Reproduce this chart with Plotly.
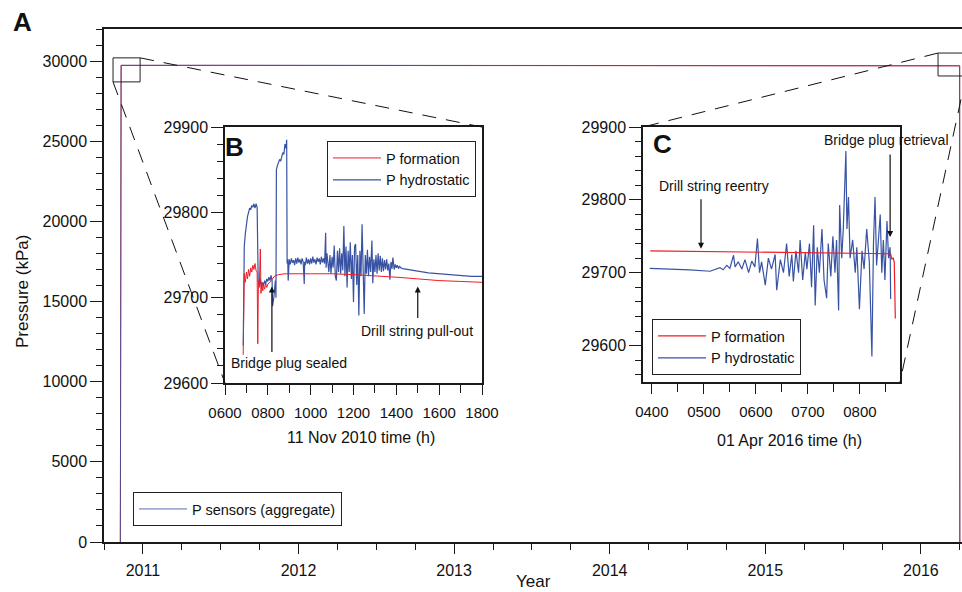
import plotly.graph_objects as go

# ---------------- data ----------------
# Panel A: aggregate record (decimal year, kPa)
agg_year = [2010.855, 2010.857, 2010.860, 2011.5, 2012.5, 2013.5, 2014.5, 2015.5, 2016.245, 2016.249, 2016.250]
agg_formation = [0, 24000, 29728, 29730, 29729, 29731, 29730, 29729, 29727, 29700, 0]
agg_hydrostatic = [0, 24100, 29735, 29736, 29735, 29737, 29736, 29735, 29733, 29710, 0]

# Panel B: 11 Nov 2010 (hour of day, kPa)
b_hyd_t = [6.85, 6.87, 6.90, 6.95, 7.00, 7.05, 7.10, 7.15, 7.20, 7.25, 7.30, 7.35, 7.40, 7.45, 7.50,
           7.55, 7.60, 7.65, 7.70, 7.75, 7.80, 7.85, 7.90, 7.95, 8.00, 8.05, 8.10, 8.15, 8.20, 8.22,
           8.28, 8.32, 8.35, 8.38, 8.40, 8.45, 8.50, 8.55, 8.60, 8.65, 8.70, 8.75, 8.80, 8.85, 8.88,
           8.90, 8.93, 8.95, 8.97, 9.00, 9.05, 9.10, 9.15, 9.20, 9.25, 9.30, 9.35, 9.40, 9.45, 9.50,
           9.55, 9.60, 9.65, 9.70, 9.72, 9.75, 9.80, 9.85, 9.90, 9.95, 10.0, 10.05, 10.1, 10.15, 10.2,
           10.25, 10.3, 10.35, 10.4, 10.45, 10.5, 10.55, 10.6, 10.65, 10.7, 10.72, 10.76, 10.8, 10.85, 10.9,
           10.95, 11.0, 11.05, 11.1, 11.15, 11.2, 11.25, 11.3, 11.35, 11.4, 11.45, 11.5, 11.55, 11.6, 11.65,
           11.7, 11.75, 11.8, 11.85, 11.9, 11.95, 12.0, 12.05, 12.1, 12.15, 12.2, 12.25, 12.3, 12.35, 12.4,
           12.45, 12.5, 12.55, 12.6, 12.65, 12.7, 12.75, 12.8, 12.86, 12.9, 12.95, 13.0, 13.05, 13.1, 13.15,
           13.2, 13.25, 13.3, 13.35, 13.4, 13.45, 13.5, 13.55, 13.6, 13.65, 13.7, 13.75, 13.8, 13.84, 13.9,
           13.95, 14.0, 14.05, 14.1, 14.15, 14.2, 14.3, 14.5, 15.0, 15.5, 16.0, 16.5, 17.0, 17.5, 18.0]
b_hyd_p = [29644, 29690, 29760, 29775, 29790, 29795, 29800, 29805, 29803, 29808, 29806, 29810, 29805, 29810, 29806,
           29720, 29715, 29722, 29712, 29718, 29714, 29720, 29716, 29722, 29719, 29724, 29720, 29726, 29720, 29690,
           29700, 29715, 29720, 29700, 29850, 29855, 29858, 29862, 29860, 29866, 29870, 29868, 29880, 29875, 29885,
           29740, 29745, 29720, 29742, 29745, 29739, 29746, 29741, 29744, 29738, 29746, 29740, 29747, 29741, 29745,
           29739, 29746, 29742, 29716, 29742, 29738, 29747, 29740, 29745, 29739, 29746, 29740, 29748, 29741, 29745,
           29739, 29747, 29742, 29746, 29739, 29748, 29741, 29746, 29740, 29776, 29735, 29752, 29738, 29730, 29750,
           29728, 29748, 29735, 29761, 29725, 29720, 29755, 29730, 29758, 29728, 29752, 29732, 29784, 29725, 29760,
           29712, 29755, 29730, 29765, 29722, 29750, 29695, 29760, 29763, 29715, 29750, 29679, 29755, 29725, 29786,
           29720, 29681, 29750, 29728, 29756, 29725, 29748, 29730, 29767, 29717, 29745, 29730, 29750, 29728, 29752,
           29732, 29749, 29730, 29746, 29731, 29744, 29733, 29745, 29732, 29740, 29721, 29742, 29734, 29747, 29733,
           29739, 29735, 29738, 29734, 29737, 29735, 29734, 29733, 29731, 29729, 29728, 29727, 29726, 29725, 29725]
b_form_t = [6.85, 6.88, 6.90, 6.95, 7.00, 7.05, 7.10, 7.15, 7.20, 7.25, 7.30, 7.35, 7.40, 7.45, 7.50,
            7.53, 7.56, 7.60, 7.65, 7.68, 7.72, 7.76, 7.80, 7.85, 7.90, 7.95, 8.00, 8.10, 8.20, 8.30,
            8.50, 8.80, 10.0, 11.0, 12.0, 12.9, 14.0, 15.0, 16.0, 17.0, 18.0]
b_form_p = [29633, 29700, 29728, 29718, 29730, 29722, 29733, 29725, 29735, 29730, 29738, 29733, 29740, 29732, 29730,
            29646, 29720, 29712, 29757, 29705, 29718, 29708, 29715, 29710, 29716, 29712, 29716, 29718, 29722, 29725,
            29727, 29728, 29728, 29728, 29727, 29726, 29724, 29722, 29720, 29719, 29718]

# Panel C: 01 Apr 2016 (hour of day, kPa)
c_hyd_t = [3.96, 4.41, 4.73, 5.12, 5.25, 5.31, 5.37, 5.44, 5.50, 5.57, 5.60, 5.66, 5.73, 5.79, 5.86,
           5.92, 5.98, 6.03, 6.07, 6.11, 6.18, 6.24, 6.30, 6.37, 6.40, 6.47, 6.53, 6.59, 6.64, 6.69,
           6.72, 6.77, 6.82, 6.85, 6.90, 6.95, 6.98, 7.03, 7.07, 7.11, 7.14, 7.18, 7.22, 7.27, 7.31,
           7.36, 7.39, 7.44, 7.48, 7.52, 7.55, 7.59, 7.61, 7.65, 7.68, 7.73, 7.75, 7.78, 7.81, 7.86,
           7.91, 7.94, 7.99, 8.04, 8.08, 8.13, 8.18, 8.23, 8.26, 8.29, 8.32, 8.36, 8.39, 8.42, 8.45,
           8.48, 8.52, 8.55, 8.58, 8.59]
c_hyd_p = [29706, 29705, 29704, 29702, 29705, 29707, 29704, 29710, 29706, 29724, 29708, 29715, 29705, 29718, 29700,
           29716, 29708, 29747, 29700, 29715, 29683, 29720, 29705, 29725, 29676, 29718, 29700, 29740, 29695, 29725,
           29688, 29730, 29700, 29745, 29690, 29728, 29705, 29740, 29680, 29765, 29655, 29735, 29700, 29760, 29690,
           29665, 29740, 29695, 29750, 29700, 29745, 29648, 29793, 29720, 29760, 29867, 29760, 29804, 29720, 29745,
           29700, 29735, 29650, 29730, 29705, 29760, 29715, 29585, 29740, 29804, 29710, 29750, 29780, 29700, 29745,
           29690, 29771, 29720, 29735, 29664]
c_form_t = [3.97, 4.5, 5.0, 5.5, 6.0, 6.5, 7.0, 7.5, 8.0, 8.5, 8.59, 8.61, 8.64, 8.66, 8.68]
c_form_p = [29730, 29729.5, 29729, 29728.5, 29728, 29727.5, 29727, 29726.5, 29726, 29726, 29726, 29719, 29720, 29714, 29637]

b_tick_vals = [6, 8, 10, 12, 14, 16, 18]
b_tick_text = ["0600", "0800", "1000", "1200", "1400", "1600", "1800"]
c_tick_vals = [4, 5, 6, 7, 8]
c_tick_text = ["0400", "0500", "0600", "0700", "0800"]

# zoom boxes on panel A (decimal year, kPa)
box_left = dict(x0=2010.808, x1=2010.982, y0=28700, y1=30200)
box_right = dict(x0=2016.11, x1=2016.29, y0=29070, y1=30500)

# ---------------- layout geometry ----------------
W, H = 962, 592
L, R, T, B = 104, 962, 29, 542
XR = [2010.75, 2016.264]
YR = [0, 32000]


def pxx(px):
    return (px - L) / (R - L)


def pxy(py):
    return (B - py) / (B - T)


def dx2p(x):
    return (x - XR[0]) / (XR[1] - XR[0])


def dy2p(y):
    return (y - YR[0]) / (YR[1] - YR[0])


B_dx = [pxx(225), pxx(482)]
B_dy = [pxy(383), pxy(127)]
C_dx = [pxx(643), pxx(900)]
C_dy = [pxy(382), pxy(127)]

RED = "#ee1c25"
BLUE = "#3953a4"
FONT = "Liberation Sans, Arial, Helvetica, sans-serif"
AX = "#1a1a1a"

fig = go.Figure()

# Panel A
fig.add_trace(go.Scatter(x=agg_year, y=agg_formation, mode="lines", line=dict(color=RED, width=1),
                         showlegend=False, xaxis="x", yaxis="y"))
fig.add_trace(go.Scatter(x=agg_year, y=agg_hydrostatic, mode="lines", line=dict(color=BLUE, width=1),
                         opacity=0.85, name="P sensors (aggregate)", legend="legend", xaxis="x", yaxis="y"))
# Panel B
fig.add_trace(go.Scatter(x=b_hyd_t, y=b_hyd_p, mode="lines", line=dict(color=BLUE, width=1.2),
                         name="P hydrostatic", legend="legend2", xaxis="x2", yaxis="y2"))
fig.add_trace(go.Scatter(x=b_form_t, y=b_form_p, mode="lines", line=dict(color=RED, width=1),
                         name="P formation", legend="legend2", xaxis="x2", yaxis="y2"))
# Panel C
fig.add_trace(go.Scatter(x=c_hyd_t, y=c_hyd_p, mode="lines", line=dict(color=BLUE, width=1.2),
                         name="P hydrostatic", legend="legend3", xaxis="x3", yaxis="y3"))
fig.add_trace(go.Scatter(x=c_form_t, y=c_form_p, mode="lines", line=dict(color=RED, width=1.2),
                         name="P formation", legend="legend3", xaxis="x3", yaxis="y3"))

axcommon = dict(showgrid=False, zeroline=False, showline=True, linecolor=AX, linewidth=1.5,
                ticks="outside", tickcolor=AX, tickwidth=1.2, automargin=False,
                tickfont=dict(family=FONT, size=16, color="#111"))


def minor(t0, dt, ln):
    return dict(tickmode="linear", tick0=t0, dtick=dt, ticklen=ln, ticks="outside",
                tickcolor=AX, tickwidth=1.2)


def legend_box(px, py, order="normal", size=14):
    return dict(x=pxx(px), y=pxy(py), xanchor="left", yanchor="top", bgcolor="white",
                bordercolor="#222", borderwidth=1, font=dict(family=FONT, size=size),
                traceorder=order, itemwidth=48)


fig.update_layout(
    width=W, height=H,
    margin=dict(l=L, r=W - R, t=T, b=H - B, autoexpand=False),
    paper_bgcolor="white", plot_bgcolor="white",
    font=dict(family=FONT, color="#111"),
    xaxis=dict(**axcommon, mirror=True, domain=[0, 1], range=XR, tickmode="linear", tick0=2011, dtick=1,
               tickformat="d", ticklen=10, ticklabelstandoff=3, minor=minor(2011, 0.25, 6)),
    yaxis=dict(**axcommon, mirror=False, domain=[0, 1], range=YR, tickmode="linear", tick0=0, dtick=5000,
               tickformat="d", ticklen=12, minor=minor(0, 1000, 6)),
    xaxis2=dict(**axcommon, mirror=True, domain=B_dx, anchor="y2", range=[6, 18], tickmode="array",
                tickvals=b_tick_vals, ticktext=b_tick_text, ticklen=10, ticklabelstandoff=5,
                tickfont_size=15, minor=minor(6, 1, 8)),
    yaxis2=dict(**axcommon, mirror=True, domain=B_dy, anchor="x2", range=[29600, 29900], tickmode="linear",
                tick0=29600, dtick=100, tickformat="d", ticklen=12, minor=minor(29600, 20, 6)),
    xaxis3=dict(**axcommon, mirror=True, domain=C_dx, anchor="y3", range=[3.83, 8.77], tickmode="array",
                tickvals=c_tick_vals, ticktext=c_tick_text, ticklen=10, ticklabelstandoff=5,
                tickfont_size=15, minor=minor(4, 0.5, 8)),
    yaxis3=dict(**axcommon, mirror=True, domain=C_dy, anchor="x3", range=[29550, 29900], tickmode="linear",
                tick0=29600, dtick=100, tickformat="d", ticklen=12, minor=minor(29600, 20, 6)),
    legend=legend_box(133, 492, size=14.5),
    legend2=legend_box(327, 141, "reversed", size=14.5),
    legend3=legend_box(652, 319, "reversed", size=14.5),
)

# zoom boxes
for bx in (box_left, box_right):
    fig.add_shape(type="rect", xref="x", yref="y", x0=bx["x0"], x1=bx["x1"], y0=bx["y0"], y1=bx["y1"],
                  line=dict(color="#222", width=1))

dash = dict(color="#111", width=1, dash="14px,10px")
lines = [
    ((dx2p(box_left["x1"]), dy2p(box_left["y1"])), (B_dx[1], B_dy[1])),
    ((dx2p(box_left["x0"]), dy2p(box_left["y0"])), (B_dx[0], B_dy[0])),
    ((dx2p(box_right["x0"]), dy2p(box_right["y1"])), (C_dx[0], C_dy[1])),
    ((dx2p(box_right["x1"]), dy2p(box_right["y0"])), (C_dx[1], C_dy[0])),
]
for (a, b) in lines:
    fig.add_shape(type="line", xref="paper", yref="paper", x0=a[0], y0=a[1], x1=b[0], y1=b[1], line=dash)


def label(x, y, text, size, xref="paper", yref="paper", xanchor="center", **kw):
    fig.add_annotation(x=x, y=y, xref=xref, yref=yref, text=text, showarrow=False,
                       xanchor=xanchor, yanchor="middle",
                       font=dict(family=FONT, size=size, color="#111"), **kw)


# panel letters
label(pxx(22), pxy(22), "<b>A</b>", 26)
label(6.45, 29877, "<b>B</b>", 26, xref="x2", yref="y2")
label(4.2, 29877, "<b>C</b>", 26, xref="x3", yref="y3")

# axis titles
label(pxx(533), pxy(581), "Year", 17)
label(pxx(22), pxy(292), "Pressure (kPa)", 17, textangle=-90)
label(pxx(361), pxy(437), "11 Nov 2010 time (h)", 16)
label(pxx(789), pxy(440), "01 Apr 2016 time (h)", 16)

# event labels and arrows
label(6.19, 29624, "Bridge plug sealed", 14, xref="x2", yref="y2", xanchor="left")
label(14.96, 29661, "Drill string pull-out", 14, xref="x2", yref="y2")
label(4.10, 29819, "Drill string reentry", 14, xref="x3", yref="y3", xanchor="left")
label(7.27, 29882, "Bridge plug retrieval", 14, xref="x3", yref="y3", xanchor="left")

arrows = [("x2", "y2", 8.19, 29713, 67), ("x2", "y2", 15.0, 29713, 33),
          ("x3", "y3", 4.945, 29733, -51), ("x3", "y3", 8.58, 29749, -84)]
for xr, yr, x, y, ay in arrows:
    fig.add_annotation(x=x, y=y, xref=xr, yref=yr, text="", showarrow=True, arrowhead=2,
                       arrowsize=1, arrowwidth=1.2, arrowcolor="#111", ax=0, ay=ay, standoff=0)

fig.write_html("out.html")
